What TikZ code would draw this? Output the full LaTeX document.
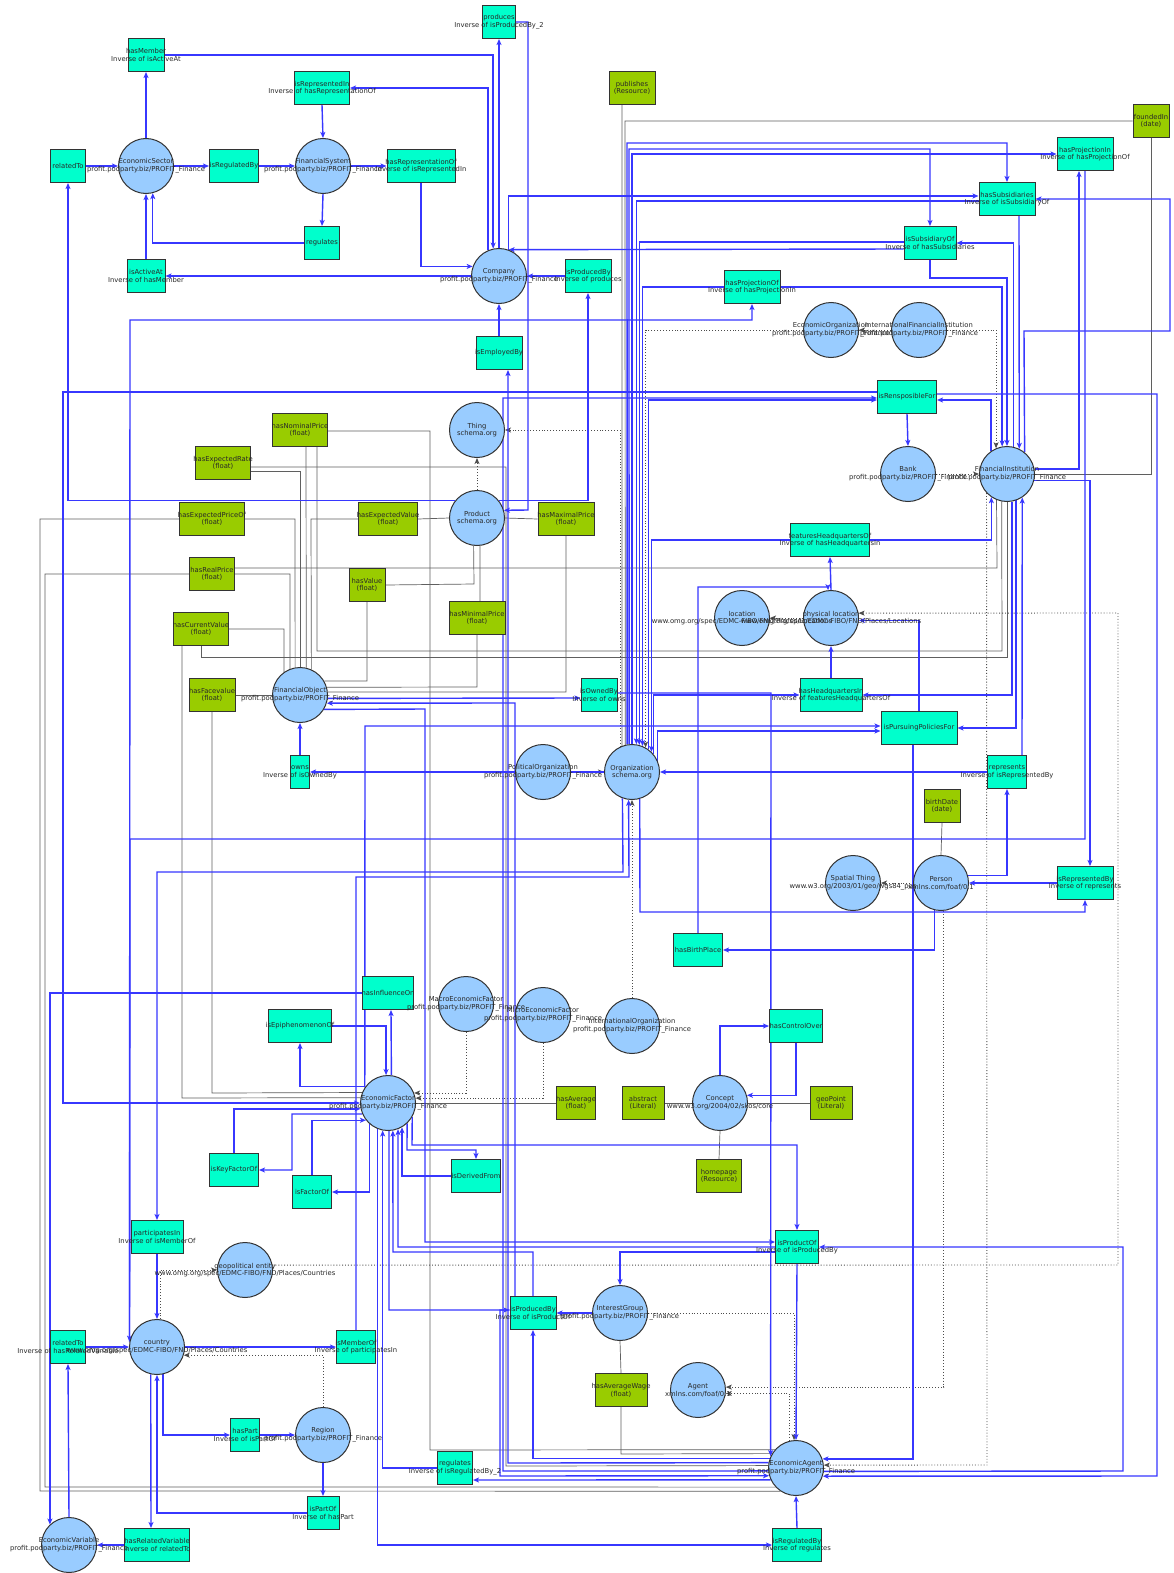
\documentclass[tikz,border=0pt]{standalone}
\usepackage{fontspec}
\setmainfont{DejaVu Sans}
\usetikzlibrary{arrows.meta,backgrounds}
\definecolor{opfill}{RGB}{0,255,204}
\definecolor{dpfill}{RGB}{153,204,0}
\definecolor{clsfill}{RGB}{153,204,255}
\definecolor{edgeblue}{RGB}{55,55,255}
\definecolor{outline}{RGB}{51,51,51}
\definecolor{txt}{RGB}{40,40,40}
\definecolor{dline}{RGB}{95,95,95}
\newcommand\profns{profit.podparty.biz/PROFIT\_Finance}
\newcommand\fiboloc{www.omg.org/spec/EDMC-FIBO/FND/Places/Locations}
\newcommand\fibocty{www.omg.org/spec/EDMC-FIBO/FND/Places/Countries}
\begin{document}
\begin{tikzpicture}[x=1pt,y=-1pt,
  cls/.style={circle,draw=outline,line width=1pt,fill=clsfill,minimum size=55pt,inner sep=0pt},
  opbox/.style={rectangle,draw=outline,line width=1pt,fill=opfill,minimum height=33pt,inner sep=0pt},
  dpbox/.style={rectangle,draw=outline,line width=1pt,fill=dpfill,minimum height=33pt,inner sep=0pt},
  lbl/.style={align=center,font=\fontsize{6.8}{7.7}\selectfont,text=txt,inner sep=0pt},
  objedge/.style={draw=edgeblue,line width=1.4pt,-{Stealth[length=6pt,width=5pt,inset=1.5pt]}},
  dataedge/.style={draw=dline,line width=0.7pt},
  subedge/.style={draw=black!70,line width=0.9pt,dotted,-{Stealth[length=6pt,width=5pt,inset=1.5pt]}}]
\useasboundingbox (0,0) rectangle (1173,1573);

% ---------- classes ----------
\node[cls] (ecoSector) at (146,166) {};
\node[cls] (finSystem) at (323,166) {};
\node[cls] (company) at (499,276) {};
\node[cls] (thing) at (477,430) {};
\node[cls] (product) at (477,518) {};
\node[cls] (econOrg) at (831,330) {};
\node[cls] (intlFinInst) at (919,330) {};
\node[cls] (bank) at (908,474) {};
\node[cls] (finInst) at (1007,474) {};
\node[cls] (location) at (742,618) {};
\node[cls] (physLoc) at (831,618) {};
\node[cls] (finObject) at (300,695) {};
\node[cls] (polOrg) at (543,772) {};
\node[cls] (organization) at (632,772) {};
\node[cls] (spatialThing) at (853,883) {};
\node[cls] (person) at (941,883) {};
\node[cls] (macroEF) at (466,1004) {};
\node[cls] (microEF) at (543,1015) {};
\node[cls] (intlOrg) at (632,1026) {};
\node[cls] (econFactor) at (388,1103) {};
\node[cls] (concept) at (720,1103) {};
\node[cls] (geoEntity) at (245,1270) {};
\node[cls] (country) at (157,1347) {};
\node[cls] (region) at (323,1435) {};
\node[cls] (interestGroup) at (620,1313) {};
\node[cls] (agent) at (698,1390) {};
\node[cls] (econAgent) at (796,1468) {};
\node[cls] (econVariable) at (69,1545) {};

% ---------- object properties ----------
\node[opbox,minimum width=36pt] (hasMember) at (146,55) {};
\node[opbox,minimum width=33pt] (produces) at (499,22) {};
\node[opbox,minimum width=55pt] (isRepresentedIn) at (322,88) {};
\node[opbox,minimum width=35pt] (relatedToA) at (68,166) {};
\node[opbox,minimum width=49pt] (isRegulatedByA) at (234,166) {};
\node[opbox,minimum width=68pt] (hasReprOf) at (421,166) {};
\node[opbox,minimum width=35pt] (regulatesA) at (322,243) {};
\node[opbox,minimum width=38pt] (isActiveAt) at (146,276) {};
\node[opbox,minimum width=46pt] (isProducedByA) at (588,276) {};
\node[opbox,minimum width=56pt] (hasProjOf) at (752,287) {};
\node[opbox,minimum width=46pt] (isEmployedBy) at (499,353) {};
\node[opbox,minimum width=56pt] (hasProjIn) at (1085,154) {};
\node[opbox,minimum width=56pt] (hasSubs) at (1007,199) {};
\node[opbox,minimum width=52pt] (isSubsOf) at (930,243) {};
\node[opbox,minimum width=59pt] (isResponsible) at (907,397) {};
\node[opbox,minimum width=79pt] (featHQ) at (830,540) {};
\node[opbox,minimum width=62pt] (hasHQ) at (831,695) {};
\node[opbox,minimum width=76pt] (isPursuing) at (919,728) {};
\node[opbox,minimum width=36pt] (isOwnedBy) at (599,695) {};
\node[opbox,minimum width=19pt] (owns) at (300,772) {};
\node[opbox,minimum width=39pt] (represents) at (1007,772) {};
\node[opbox,minimum width=56pt] (isReprBy) at (1085,883) {};
\node[opbox,minimum width=49pt] (hasBirthPlace) at (698,950) {};
\node[opbox,minimum width=51pt] (hasInfluence) at (388,993) {};
\node[opbox,minimum width=63pt] (isEpiphen) at (300,1026) {};
\node[opbox,minimum width=53pt] (hasControl) at (796,1026) {};
\node[opbox,minimum width=49pt] (isKeyFactor) at (234,1170) {};
\node[opbox,minimum width=39pt] (isFactorOf) at (312,1192) {};
\node[opbox,minimum width=49pt] (isDerivedFrom) at (476,1176) {};
\node[opbox,minimum width=52pt] (participates) at (157,1237) {};
\node[opbox,minimum width=43pt] (isProductOf) at (797,1247) {};
\node[opbox,minimum width=39pt] (isMemberOf) at (356,1347) {};
\node[opbox,minimum width=35pt] (relatedToB) at (68,1347) {};
\node[opbox,minimum width=29pt] (hasPart) at (245,1435) {};
\node[opbox,minimum width=32pt] (isPartOf) at (323,1513) {};
\node[opbox,minimum width=46pt] (isProducedByB) at (533,1313) {};
\node[opbox,minimum width=35pt] (regulatesB) at (455,1468) {};
\node[opbox,minimum width=49pt] (isRegulatedByB) at (797,1545) {};
\node[opbox,minimum width=65pt] (hasRelVar) at (157,1545) {};

% ---------- datatype properties ----------
\node[dpbox,minimum width=46pt] (publishes) at (632,88) {};
\node[dpbox,minimum width=36pt] (foundedIn) at (1151,121) {};
\node[dpbox,minimum width=55pt] (hasNominalPrice) at (300,430) {};
\node[dpbox,minimum width=55pt] (hasExpectedRate) at (223,463) {};
\node[dpbox,minimum width=65pt] (hasExpectedPriceOf) at (212,519) {};
\node[dpbox,minimum width=59pt] (hasExpectedValue) at (388,519) {};
\node[dpbox,minimum width=56pt] (hasMaximalPrice) at (566,519) {};
\node[dpbox,minimum width=45pt] (hasRealPrice) at (212,574) {};
\node[dpbox,minimum width=36pt] (hasValue) at (367,585) {};
\node[dpbox,minimum width=56pt] (hasMinimalPrice) at (477,618) {};
\node[dpbox,minimum width=55pt] (hasCurrentValue) at (201,629) {};
\node[dpbox,minimum width=46pt] (hasFacevalue) at (212,695) {};
\node[dpbox,minimum width=36pt] (birthDate) at (942,806) {};
\node[dpbox,minimum width=39pt] (hasAverage) at (576,1103) {};
\node[dpbox,minimum width=42pt] (abstract) at (643,1103) {};
\node[dpbox,minimum width=42pt] (geoPoint) at (831,1103) {};
\node[dpbox,minimum width=45pt] (homepage) at (719,1176) {};
\node[dpbox,minimum width=52pt] (hasAverageWage) at (621,1390) {};

\begin{pgfonlayer}{background}
\fill[white] (0,0) rectangle (1173,1573);

% ---------- datatype links ----------
\draw[dataedge] ([xshift=-10pt]publishes.south) -- (organization.111.3);
\draw[dataedge] (foundedIn.west) -- (625,121) -- (organization.104.7);
\draw[dataedge] (foundedIn.south) |- (finInst.east);
\draw[dataedge] ([xshift=6pt]hasNominalPrice.south) -- (finObject.77.4);
\draw[dataedge] ([xshift=17pt]hasNominalPrice.south) -- (317,651) -- (1002,651) -- (finInst.259.5);
\draw[dataedge] ([yshift=-1pt]hasNominalPrice.east) -- (430,431) -- (430,1450) -- (econAgent.139.1);
\draw[dataedge] ([yshift=-8pt]hasExpectedRate.east) -- (300,471) -- (finObject.north);
\draw[dataedge] ([yshift=-4pt]hasExpectedRate.east) -- (506,467) -- (506,1466) -- (econAgent.175.8);
\draw[dataedge] (hasExpectedPriceOf.east) -- (295,519) -- (finObject.100.5);
\draw[dataedge] (hasExpectedPriceOf.west) -- (40,519) -- (40,1491) -- (econAgent.236.7);
\draw[dataedge] (hasRealPrice.east) -- (290,574) -- (finObject.111.3);
\draw[dataedge] (hasRealPrice.west) -- (45,574) -- (45,1487) -- (econAgent.223.7);
\draw[dataedge] ([yshift=6pt]hasRealPrice.east) -- (997,568) -- (finInst.248.7);
\draw[dataedge] (hasCurrentValue.east) -- (284,629) -- (finObject.125.6);
\draw[dataedge] (hasCurrentValue.south) -- (201,657) -- (1007,657) -- (finInst.south);
\draw[dataedge] ([xshift=-19pt]hasCurrentValue.south) -- (182,1098) -- (econFactor.169.5);
\draw[dataedge] (hasFacevalue.east) -- (finObject.west);
\draw[dataedge] (hasFacevalue.south) -- (212,1093) -- (econFactor.158.7);
\draw[dataedge] (hasValue.east) -- (474,584) -- (product.263.7);
\draw[dataedge] (hasValue.south) -- (367,681) -- (finObject.30.6);
\draw[dataedge] (hasExpectedValue.east) -- (product.west);
\draw[dataedge] (hasExpectedValue.west) -- (311,519) -- (finObject.66.4);
\draw[dataedge] ([xshift=3pt]hasMinimalPrice.north) -- (product.276.3);
\draw[dataedge] (hasMinimalPrice.south) -- (477,687) -- (finObject.16.9);
\draw[dataedge] (hasMaximalPrice.west) -- (product.east);
\draw[dataedge] (hasMaximalPrice.south) -- (566,692) -- (finObject.6.3);
\draw[dataedge] (hasAverage.west) -- (econFactor.east);
\draw[dataedge] (abstract.east) -- (concept.west);
\draw[dataedge] (geoPoint.west) -- (concept.east);
\draw[dataedge] (homepage.north) -- (concept.south);
\draw[dataedge] (birthDate.south) -- (person.north);
\draw[dataedge] (hasAverageWage.north) -- (interestGroup.south);
\draw[dataedge] (hasAverageWage.south) -- (621,1454) -- (econAgent.149.4);

% ---------- subclass links ----------
\draw[subedge] (product.north) -- (thing.south);
\draw[subedge] (organization.115.9) |- (thing.east);
\draw[subedge] (econOrg.west) -| (organization.61.8);
\draw[subedge] (intlFinInst.west) -- (econOrg.east);
\draw[subedge] (intlFinInst.east) -| (finInst.113.6);
\draw[subedge] (bank.east) -- (finInst.west);
\draw[subedge] (polOrg.east) -- (organization.west);
\draw[subedge] (intlOrg.north) -- (organization.south);
\draw[subedge] (macroEF.south) |- (econFactor.21.3);
\draw[subedge] (microEF.south) |- (econFactor.10.5);
\draw[subedge] (physLoc.west) -- (location.east);
\draw[subedge] (geoEntity.10.5) -- (1118,1265) -- (1118,613) -- (physLoc.10.5);
\draw[subedge] (country.83.7) |- (geoEntity.west);
\draw[subedge] (region.north) |- (country.343.1);
\draw[subedge] (person.west) -- (spatialThing.east);
\draw[subedge] (person.276.3) |- (agent.6.3);
\draw[subedge] (econAgent.104.7) |- (agent.353.7);
\draw[subedge] (interestGroup.east) -| (econAgent.94.2);
\draw[subedge] (finInst.223.3) -- (987,1465) -- (econAgent.6.3);

% ---------- object property links ----------
\draw[objedge] (ecoSector.north) -- (hasMember.south);
\draw[objedge] (hasMember.east) -| (company.102.6);
\draw[objedge] (company.north) -- (produces.south);
\draw[objedge] (produces.east) -- (528,22) -- (528,510) -- (product.16.9);
\draw[objedge] (company.113.6) |- (isRepresentedIn.east);
\draw[objedge] (isRepresentedIn.south) -- (finSystem.north);
\draw[objedge] (relatedToA.east) -- (ecoSector.west);
\draw[objedge] (ecoSector.east) -- (isRegulatedByA.west);
\draw[objedge] (isRegulatedByA.east) -- (finSystem.west);
\draw[objedge] (finSystem.east) -- (hasReprOf.west);
\draw[objedge] (hasReprOf.south) |- (company.160.9);
\draw[objedge] (finSystem.south) -- (regulatesA.north);
\draw[objedge] (regulatesA.west) -| (ecoSector.284.7);
\draw[objedge] (isActiveAt.north) -- (ecoSector.south);
\draw[objedge] (company.west) -- (isActiveAt.east);
\draw[objedge] (isEmployedBy.north) -- (company.south);
\draw[objedge] (econAgent.169.5) -- (508,1463) -- ([xshift=9pt]isEmployedBy.south);
\draw[objedge] (isProducedByA.west) -- (company.east);
\draw[objedge] (product.38.2) -| (isProducedByA.south);
\draw[objedge] (product.141.8) -| (relatedToA.south);
\draw[objedge] (country.169.1) -- (130,320) -- (752,320) -- (hasProjOf.south);
\draw[objedge] (hasProjOf.east) -| (finInst.100.5);
\draw[objedge] (hasProjOf.west) -| (organization.68.7);
\draw[objedge] (organization.north) |- (hasProjIn.west);
\draw[objedge] (finInst.10.5) -| ([xshift=-6pt]hasProjIn.south);
\draw[objedge] (hasProjIn.south) -- (1085,839) -- (130,839) -- (country.169.1);
\draw[objedge] (organization.100.5) -- (627,143) -- (1007,143) -- (hasSubs.north);
\draw[objedge] (company.70.9) |- ([yshift=3pt]hasSubs.west);
\draw[objedge] (finInst.51.8) -- (1024,331) -- (1170,331) -- (1170,199) -- (hasSubs.east);
\draw[objedge] ([xshift=12pt]hasSubs.south) -- (finInst.64.1);
\draw[objedge] ([yshift=-2pt]hasSubs.west) -| (organization.81.6);
\draw[objedge] (organization.96.3) -- (629,149) -- (930,149) -- (isSubsOf.north);
\draw[objedge] (finInst.77.4) |- (isSubsOf.east);
\draw[objedge] ([yshift=-6pt]isSubsOf.west) -- (company.70.9);
\draw[objedge] ([yshift=1pt]isSubsOf.west) -| (organization.75.3);
\draw[objedge] (isSubsOf.south) -- (930,278) -- (1007,278) -- (finInst.north);
\draw[objedge] (organization.54.4) |- ([yshift=-3pt]isResponsible.west);
\draw[objedge] (econAgent.186.3) -- (503,1471) -- (503,398) -- ([yshift=-1pt]isResponsible.west);
\draw[objedge] (finInst.125.6) |- ([yshift=-3pt]isResponsible.east);
\draw[objedge] (isResponsible.south) -- (bank.north);
\draw[objedge] ([yshift=5pt]isResponsible.west) -- (63,392) -- (63,1103) -- (econFactor.west);
\draw[objedge] ([yshift=3pt]isResponsible.east) -- (1157,394) -- (1157,1476) -- (econAgent.343.1);
\draw[objedge] (physLoc.north) -- (featHQ.south);
\draw[objedge] (featHQ.east) -| (finInst.236.9);
\draw[objedge] (featHQ.west) -| (organization.46.3);
\draw[objedge] (hasBirthPlace.north) -- (698,587) -- (828,587) -- (physLoc.96.3);
\draw[objedge] (person.257.4) |- (hasBirthPlace.east);
\draw[objedge] (hasHQ.north) -- (physLoc.south);
\draw[objedge] (organization.40.2) |- (hasHQ.west);
\draw[objedge] (finInst.280.5) |- (hasHQ.east);
\draw[objedge] (organization.24.6) |- ([yshift=-3pt]isPursuing.west);
\draw[objedge] (finInst.289.1) |- (isPursuing.east);
\draw[objedge] (econFactor.146.7) -- (365,726) -- ([yshift=2pt]isPursuing.west);
\draw[objedge] ([xshift=-6pt]isPursuing.south) |- (econAgent.19.1);
\draw[objedge] (isPursuing.north) |- (physLoc.355.8);
\draw[objedge] (person.16.9) -| (represents.south);
\draw[objedge] ([xshift=15pt]represents.north) -- (finInst.303.1);
\draw[objedge] (represents.west) -- (organization.east);
\draw[objedge] (finInst.347.4) -| ([xshift=5pt]isReprBy.north);
\draw[objedge] (organization.286.9) -- (640,912) -- (1085,912) -- (isReprBy.south);
\draw[objedge] (isReprBy.west) -- (person.east);
\draw[objedge] (finObject.353.7) -- ([yshift=-3pt]isOwnedBy.west);
\draw[objedge] ([yshift=2pt]isOwnedBy.east) -- (771,693) -- (econAgent.155.4);
\draw[objedge] (organization.west) -- (owns.east);
\draw[objedge] (owns.north) -- (finObject.south);
\draw[objedge] ([xshift=-18pt]isProducedByB.north) -- (515,703) -- (finObject.343.1);
\draw[objedge] (finObject.329.4) -- (425,709) -- (425,1242) -- ([yshift=5pt]isProductOf.west);
\draw[objedge] (econFactor.330.8) -- (412,1145) -- (797,1145) -- (isProductOf.north);
\draw[objedge] ([yshift=-5pt]isProductOf.west) -| (interestGroup.north);
\draw[objedge] (isProductOf.west) -- (398,1247) -- (econFactor.291.3);
\draw[objedge] (isProducedByB.north) -- (533,1252) -- (393,1252) -- (econFactor.280.5);
\draw[objedge] (econFactor.272.1) -- (389,1310) -- ([yshift=3pt]isProducedByB.west);
\draw[objedge] ([yshift=3pt]isProducedByB.west) -- (500,1310) -- (500,1476) -- (econAgent.196.9);
\draw[objedge] (interestGroup.west) -- (isProducedByB.east);
\draw[objedge] (econAgent.160.9) -| (isProducedByB.south);
\draw[objedge] (econAgent.205.9) -- ([yshift=-12pt]regulatesB.east);
\draw[objedge] (regulatesB.west) -| (econFactor.259.5);
\draw[objedge] (econFactor.248.7) |- (isRegulatedByB.west);
\draw[objedge] (isRegulatedByB.north) -- (econAgent.south);
\draw[objedge] (isProductOf.south) -- (econAgent.north);
\draw[objedge] (econAgent.353.7) -- (1123,1471) -- (1123,1247) -- (isProductOf.east);
\draw[objedge] (econFactor.83.7) -- ([xshift=3pt]hasInfluence.south);
\draw[objedge] (hasInfluence.west) -| (econVariable.133.7);
\draw[objedge] (econFactor.144.4) -| (isEpiphen.south);
\draw[objedge] (isEpiphen.east) -| (econFactor.94.2);
\draw[objedge] (isKeyFactor.north) |- (econFactor.192.6);
\draw[objedge] (econFactor.203.6) -- (292,1114) -- (292,1170) -- (isKeyFactor.east);
\draw[objedge] (isFactorOf.north) |- (econFactor.218.2);
\draw[objedge] (econFactor.229.1) |- (isFactorOf.east);
\draw[objedge] (econFactor.313.7) -- (407,1150) -- (476,1150) -- (isDerivedFrom.north);
\draw[objedge] (isDerivedFrom.west) -| (econFactor.300.6);
\draw[objedge] (concept.north) |- (hasControl.west);
\draw[objedge] (hasControl.south) |- (concept.16.9);
\draw[objedge] (organization.250.9) -- (623,872) -- (157,872) -- (participates.north);
\draw[objedge] (participates.south) -- (country.north);
\draw[objedge] (country.east) -- (isMemberOf.west);
\draw[objedge] (isMemberOf.north) -- (356,877) -- (629,877) -- (organization.263.7);
\draw[objedge] (relatedToB.east) -- (country.west);
\draw[objedge] (econVariable.north) -- (relatedToB.south);
\draw[objedge] (country.282.6) |- (hasPart.west);
\draw[objedge] (hasPart.east) -- (region.west);
\draw[objedge] (region.south) -- (isPartOf.north);
\draw[objedge] (isPartOf.west) -| (country.south);
\draw[objedge] (country.257.4) -- ([xshift=-6pt]hasRelVar.north);
\draw[objedge] (hasRelVar.west) -- (econVariable.east);
\end{pgfonlayer}

% ---------- class labels ----------
\node[lbl] at (ecoSector) {EconomicSector\\\profns};
\node[lbl] at (finSystem) {FinancialSystem\\\profns};
\node[lbl] at (company) {Company\\\profns};
\node[lbl] at (thing) {Thing\\schema.org};
\node[lbl] at (product) {Product\\schema.org};
\node[lbl] at (econOrg) {EconomicOrganization\\\profns};
\node[lbl] at (intlFinInst) {InternationalFinancialInstitution\\\profns};
\node[lbl] at (bank) {Bank\\\profns};
\node[lbl] at (finInst) {FinancialInstitution\\\profns};
\node[lbl] at (location) {location\\\fiboloc};
\node[lbl] at (physLoc) {physical location\\\fiboloc};
\node[lbl] at (finObject) {FinancialObject\\\profns};
\node[lbl] at (polOrg) {PoliticalOrganization\\\profns};
\node[lbl] at (organization) {Organization\\schema.org};
\node[lbl] at (spatialThing) {Spatial Thing\\www.w3.org/2003/01/geo/wgs84\_pos};
\node[lbl] at (person) {Person\\xmlns.com/foaf/0.1};
\node[lbl] at (macroEF) {MacroEconomicFactor\\\profns};
\node[lbl] at (microEF) {MicroEconomicFactor\\\profns};
\node[lbl] at (intlOrg) {InternationalOrganization\\\profns};
\node[lbl] at (econFactor) {EconomicFactor\\\profns};
\node[lbl] at (concept) {Concept\\www.w3.org/2004/02/skos/core};
\node[lbl] at (geoEntity) {geopolitical entity\\\fibocty};
\node[lbl] at (country) {country\\\fibocty};
\node[lbl] at (region) {Region\\\profns};
\node[lbl] at (interestGroup) {InterestGroup\\\profns};
\node[lbl] at (agent) {Agent\\xmlns.com/foaf/0.1};
\node[lbl] at (econAgent) {EconomicAgent\\\profns};
\node[lbl] at (econVariable) {EconomicVariable\\\profns};

% ---------- property labels ----------
\node[lbl] at (hasMember) {hasMember\\Inverse of isActiveAt};
\node[lbl] at (produces) {produces\\Inverse of isProducedBy\_2};
\node[lbl] at (isRepresentedIn) {isRepresentedIn\\Inverse of hasRepresentationOf};
\node[lbl] at (relatedToA) {relatedTo};
\node[lbl] at (isRegulatedByA) {isRegulatedBy};
\node[lbl] at (hasReprOf) {hasRepresentationOf\\Inverse of isRepresentedIn};
\node[lbl] at (regulatesA) {regulates};
\node[lbl] at (isActiveAt) {isActiveAt\\Inverse of hasMember};
\node[lbl] at (isProducedByA) {isProducedBy\\Inverse of produces};
\node[lbl] at (hasProjOf) {hasProjectionOf\\Inverse of hasProjectionIn};
\node[lbl] at (isEmployedBy) {isEmployedBy};
\node[lbl] at (hasProjIn) {hasProjectionIn\\Inverse of hasProjectionOf};
\node[lbl] at (hasSubs) {hasSubsidiaries\\Inverse of isSubsidiaryOf};
\node[lbl] at (isSubsOf) {isSubsidiaryOf\\Inverse of hasSubsidiaries};
\node[lbl] at (isResponsible) {isRensposibleFor};
\node[lbl] at (featHQ) {featuresHeadquartersOf\\Inverse of hasHeadquartersIn};
\node[lbl] at (hasHQ) {hasHeadquartersIn\\Inverse of featuresHeadquartersOf};
\node[lbl] at (isPursuing) {isPursuingPoliciesFor};
\node[lbl] at (isOwnedBy) {isOwnedBy\\Inverse of owns};
\node[lbl] at (owns) {owns\\Inverse of isOwnedBy};
\node[lbl] at (represents) {represents\\Inverse of isRepresentedBy};
\node[lbl] at (isReprBy) {isRepresentedBy\\Inverse of represents};
\node[lbl] at (hasBirthPlace) {hasBirthPlace};
\node[lbl] at (hasInfluence) {hasInfluenceOn};
\node[lbl] at (isEpiphen) {isEpiphenomenonOf};
\node[lbl] at (hasControl) {hasControlOver};
\node[lbl] at (isKeyFactor) {isKeyFactorOf};
\node[lbl] at (isFactorOf) {isFactorOf};
\node[lbl] at (isDerivedFrom) {isDerivedFrom};
\node[lbl] at (participates) {participatesIn\\Inverse of isMemberOf};
\node[lbl] at (isProductOf) {isProductOf\\Inverse of isProducedBy};
\node[lbl] at (isMemberOf) {isMemberOf\\Inverse of participatesIn};
\node[lbl] at (relatedToB) {relatedTo\\Inverse of hasRelatedVariable};
\node[lbl] at (hasPart) {hasPart\\Inverse of isPartOf};
\node[lbl] at (isPartOf) {isPartOf\\Inverse of hasPart};
\node[lbl] at (isProducedByB) {isProducedBy\\Inverse of isProductOf};
\node[lbl] at (regulatesB) {regulates\\Inverse of isRegulatedBy\_2};
\node[lbl] at (isRegulatedByB) {isRegulatedBy\\Inverse of regulates};
\node[lbl] at (hasRelVar) {hasRelatedVariable\\Inverse of relatedTo};

\node[lbl] at (publishes) {publishes\\(Resource)};
\node[lbl] at (foundedIn) {foundedIn\\(date)};
\node[lbl] at (hasNominalPrice) {hasNominalPrice\\(float)};
\node[lbl] at (hasExpectedRate) {hasExpectedRate\\(float)};
\node[lbl] at (hasExpectedPriceOf) {hasExpectedPriceOf\\(float)};
\node[lbl] at (hasExpectedValue) {hasExpectedValue\\(float)};
\node[lbl] at (hasMaximalPrice) {hasMaximalPrice\\(float)};
\node[lbl] at (hasRealPrice) {hasRealPrice\\(float)};
\node[lbl] at (hasValue) {hasValue\\(float)};
\node[lbl] at (hasMinimalPrice) {hasMinimalPrice\\(float)};
\node[lbl] at (hasCurrentValue) {hasCurrentValue\\(float)};
\node[lbl] at (hasFacevalue) {hasFacevalue\\(float)};
\node[lbl] at (birthDate) {birthDate\\(date)};
\node[lbl] at (hasAverage) {hasAverage\\(float)};
\node[lbl] at (abstract) {abstract\\(Literal)};
\node[lbl] at (geoPoint) {geoPoint\\(Literal)};
\node[lbl] at (homepage) {homepage\\(Resource)};
\node[lbl] at (hasAverageWage) {hasAverageWage\\(float)};
\end{tikzpicture}
\end{document}
